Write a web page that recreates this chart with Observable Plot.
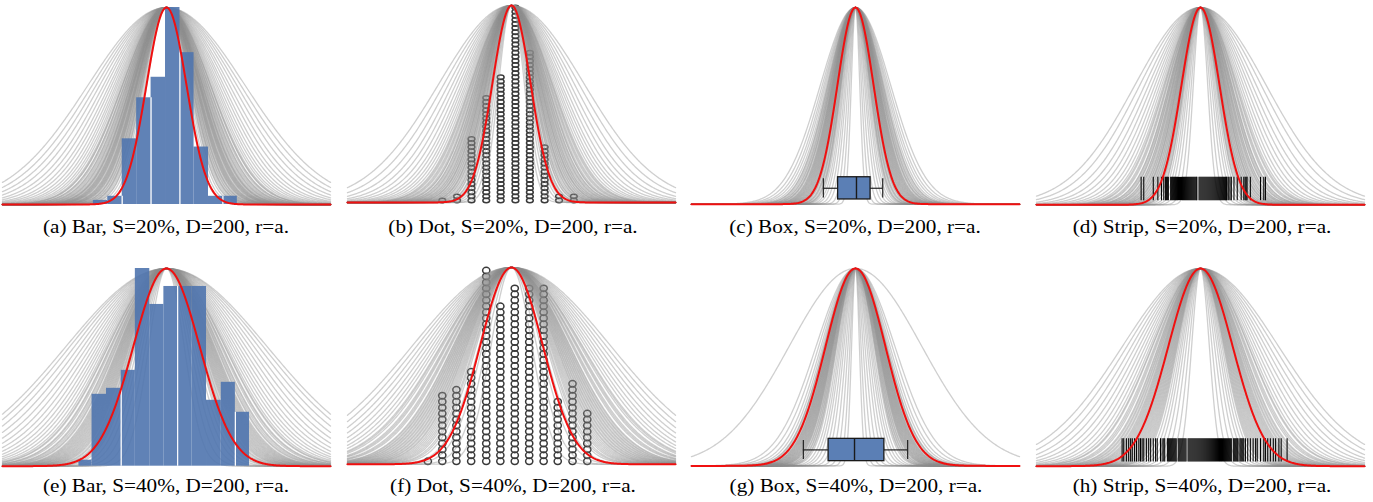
<!DOCTYPE html>
<html><head><meta charset="utf-8">
<script src="https://cdn.jsdelivr.net/npm/d3@7"></script>
<script src="https://cdn.jsdelivr.net/npm/@observablehq/plot@0.6"></script>
<style>
body{margin:0;background:#fff;}
#root{position:relative;width:1373px;height:502px;overflow:hidden;background:#fff;}
.panel{position:absolute;}
.cap{position:absolute;font-family:"Liberation Serif","Times New Roman",serif;font-size:18.8px;line-height:1;color:#000;white-space:nowrap;transform:translateX(-50%) scaleX(1.13);transform-origin:center;}
</style></head><body><div id="root"></div>
<script>
const captions = [
  "(a) Bar, S=20%, D=200, r=a.", "(b) Dot, S=20%, D=200, r=a.", "(c) Box, S=20%, D=200, r=a.", "(d) Strip, S=20%, D=200, r=a.",
  "(e) Bar, S=40%, D=200, r=a.", "(f) Dot, S=40%, D=200, r=a.", "(g) Box, S=40%, D=200, r=a.", "(h) Strip, S=40%, D=200, r=a."
];
// widths (sd) of the gray candidate curves, per panel
const sigmaA = [6.0, 6.5, 6.9, 7.2, 7.5, 7.7, 7.9, 8.2, 8.4, 8.5, 8.8, 9.0, 9.1, 9.4, 9.6, 9.8, 10.0, 10.1, 10.4, 10.6, 10.9, 11.0, 11.3, 11.5, 11.8, 12.0, 12.3, 12.6, 12.9, 13.3, 13.6, 14.0, 14.4, 14.9, 15.4, 16.0, 16.7, 17.4, 18.3, 19.2, 20.3, 21.4, 22.6, 23.9,
  7.3, 7.8, 8.1, 8.6, 8.9, 9.2, 9.5, 9.9, 10.2, 10.5, 10.8, 11.1, 11.6, 12.2, 12.8, 13.4, 9.3, 10.3];
const sigmaB = [3.9, 4.4, 4.9, 5.3, 5.6, 6.0, 6.3, 6.6, 6.9, 7.2, 7.4, 7.7, 7.9, 8.2, 8.4, 8.7, 8.9, 9.2, 9.4, 9.7, 10.0, 10.2, 10.5, 10.8, 11.1, 11.4, 11.8, 12.1, 12.5, 12.9, 13.4, 13.9, 14.5, 15.1, 15.9, 16.8, 17.8, 19.0, 20.4, 22.0,
  6.2, 6.7, 7.0, 7.5, 7.8, 8.1, 8.5, 8.8, 9.1, 9.5, 9.9, 10.4, 10.9, 11.6, 12.3];
const sigmaC = [1.3, 1.8, 2.3, 2.8, 3.2, 3.6, 3.9, 4.2, 4.4, 4.6, 4.8, 5.0, 5.2, 5.4, 5.5, 5.7, 5.9, 6.0, 6.2, 6.4, 6.5, 6.7, 6.9, 7.1, 7.3, 7.5, 7.7, 7.9, 8.2, 8.5, 8.8, 9.2, 9.6, 10.1, 10.7,
  4.5, 4.9, 5.3, 5.6, 5.8, 6.1, 6.3, 6.6, 6.8, 7.0, 7.2, 7.6, 8.0, 8.4];
const sigmaD = [2.2, 2.8, 3.4, 3.9, 4.3, 4.7, 5.0, 5.3, 5.6, 5.8, 6.1, 6.3, 6.6, 6.8, 7.1, 7.3, 7.6, 7.8, 8.1, 8.4, 8.7, 9.0, 9.3, 9.6, 10.0, 10.4, 10.8, 11.3, 11.8, 12.4, 13.1, 13.9, 14.8, 15.8, 17.0, 18.5, 20.0,
  5.1, 5.5, 5.9, 6.2, 6.5, 6.9, 7.2, 7.5, 7.9, 8.3, 8.6, 9.1, 9.5, 10.2, 11.0];
const sigmaE = [5.4, 6.4, 7.3, 8.1, 8.8, 9.4, 10.0, 10.5, 11.0, 11.5, 11.9, 12.3, 12.7, 13.1, 13.5, 13.9, 14.3, 14.7, 15.1, 15.6, 16.1, 16.6, 17.1, 17.7, 18.3, 18.9, 19.6, 20.3, 21.1, 22.0, 23.0, 24.1, 25.3, 26.6, 28.0, 29.4, 30.6,
  9.7, 10.3, 10.8, 11.3, 11.7, 12.1, 12.5, 12.9, 13.3, 13.7, 14.1, 14.5, 15.3, 15.9, 16.9, 17.9];
const sigmaF = [6.2, 7.6, 8.8, 9.8, 10.6, 11.3, 12.0, 12.6, 13.2, 13.7, 14.2, 14.7, 15.2, 15.7, 16.2, 16.7, 17.2, 17.7, 18.3, 18.9, 19.5, 20.1, 20.8, 21.5, 22.3, 23.1, 24.0, 25.0, 26.1, 27.3, 28.6, 30.0,
  11.0, 11.7, 12.3, 12.9, 13.5, 14.0, 14.5, 15.0, 15.5, 16.0, 16.5, 17.0, 17.5, 18.6, 19.8, 21.2];
const sigmaG = [1.2, 1.7, 2.3, 2.9, 3.5, 4.0, 4.5, 4.9, 5.3, 5.7, 6.0, 6.3, 6.6, 6.8, 7.0, 7.2, 7.4, 7.6, 7.8, 8.0, 8.2, 8.4, 8.6, 8.8, 9.0, 9.3, 9.6, 10.0, 10.5, 11.2, 12.0, 20.2,
  5.9, 6.2, 6.5, 6.9, 7.1, 7.3, 7.5, 7.7, 7.9, 8.1, 8.3, 8.5, 8.7, 9.1, 9.5];
const sigmaH = [2.7, 3.5, 4.3, 5.0, 5.6, 6.1, 6.6, 7.0, 7.4, 7.8, 8.2, 8.6, 9.0, 9.4, 9.8, 10.2, 10.6, 11.0, 11.4, 11.9, 12.4, 12.9, 13.4, 14.0, 14.6, 15.3, 16.0, 16.8, 17.7, 18.7, 19.8, 21.0, 22.4, 23.8,
  7.2, 7.6, 8.0, 8.4, 8.8, 9.2, 9.6, 10.0, 10.4, 10.8, 11.2, 11.7, 12.2, 12.7, 13.7, 14.8];
const redSigma = [6.1, 5.8, 5.5, 5.8, 10.1, 9.5, 9.1, 9.8];

const binEdgesS20 = [-22.3, -17.9, -13.5, -9.1, -4.7, -0.3, 4.1, 8.4, 12.8, 17.2, 21.6];
const countsS20 = [1, 2, 16, 26, 31, 48, 37, 14, 2, 2];
const whiteEdgesS20 = [-13.5, -4.7, 4.1, 17.2];
const dotXS20 = [-21.1, -16.6, -12.2, -7.7, -3.3, 1.2, 5.6, 10.1, 14.5, 19.0];
const binEdgesS40 = [-26.7, -22.7, -18.3, -13.8, -9.5, -5.1, -0.8, 3.4, 7.8, 12.2, 16.7, 21.0, 25.3];
const countsS40 = [1, 12, 13, 16, 33, 27, 30, 30, 30, 11, 14, 9];
const whiteEdgesS40 = [-13.8, 3.4, 21.0];
const dotXS40 = [-25.5, -21.1, -16.8, -12.3, -7.7, -3.4, 1.0, 5.4, 9.8, 14.1, 18.6, 23.1];
// lower whisker, q1, median, q3, upper whisker
const boxS20 = [-9.8, -5.3, 0.3, 4.6, 8.3];
const boxS40 = [-15.9, -8.2, -0.3, 8.8, 15.9];
const stripS20 = [-18.1, -17.3, -14.4, -13.0, -11.9, -11.2, -10.7, -10.4, -10.1, -9.8,
  -9.1, -8.8, -8.5, -8.2, -7.9, -7.6, -7.3, -7.0, -6.7, -6.4, -6.1, -5.8, -5.5, -5.2, -4.9, -4.6, -4.3, -4.0, -3.7, -3.4, -3.1, -2.8, -2.5, -2.2, -1.9, -1.6, -1.3, -1.1,
  -0.45, -0.15, 0.15, 0.45, 0.75, 1.05, 1.35, 1.65, 1.95, 2.25, 2.55, 2.85, 3.15, 3.45, 3.75, 4.05, 4.35, 4.65, 4.95, 5.25, 5.55, 5.85, 6.15, 6.45, 6.75, 7.05, 7.35, 7.65, 7.95, 8.1,
  8.6, 9.0, 9.4, 10.2, 11.2, 12.4, 13.2, 13.6, 13.9, 14.2, 15.2, 18.3, 19.3, 19.8];
const stripS40 = [-23.9, -23.4, -22.6, -21.9, -21.3, -20.8, -20.1, -19.5, -18.8, -18.3, -17.8, -17.3, -16.5, -15.8, -15.2, -14.4, -13.7, -13.2, -12.2, -11.7,
  -11.2, -10.9, -10.1, -9.8, -9.5, -9.2, -8.9, -8.6, -8.3, -8.0, -7.7, -7.4, -6.8, -6.5, -6.2, -5.9, -5.6, -5.3, -5.0, -4.7, -4.4, -3.8, -3.5, -3.2, -2.9, -2.6, -2.3, -2.0, -1.7,
  -1.4, -1.1, -0.8, -0.5, -0.2, 0.1, 0.4, 0.7, 1.0, 1.3, 1.6, 1.9, 2.2, 2.5, 2.8, 3.1, 3.4, 3.7, 4.0, 4.3, 4.6, 4.9, 5.2, 5.5, 5.8, 6.1, 6.4, 6.7, 7.0, 7.3, 7.6, 7.9, 8.2, 8.5, 8.8, 9.1,
  9.4, 10.0, 10.3, 10.6, 10.9, 11.2, 11.45, 12.0, 12.3, 12.6, 12.9, 13.2,
  13.7, 14.4, 15.2, 16.05, 16.8, 17.3, 18.3, 19.3, 19.8, 20.5, 21.3, 22.2, 22.9, 23.9, 24.6, 26.4];

const BLUE = "#4f74ae", GRAY = "#8c8c8c", RED = "#f01010", DOT = "#3a3a3a";

const layout = [
  {left: 2,    peak: 7,     base: 204,   capX: 166,    capY: 217.6},
  {left: 347,  peak: 5,     base: 202,   capX: 512.5,  capY: 217.6},
  {left: 691,  peak: 7.3,   base: 204,   capX: 855,    capY: 217.6},
  {left: 1036, peak: 6.7,   base: 204,   capX: 1201.7, capY: 217.6},
  {left: 2,    peak: 268.3, base: 466,   capX: 166,    capY: 476.6},
  {left: 347,  peak: 266.7, base: 463.5, capX: 512.5,  capY: 476.6},
  {left: 691,  peak: 268.3, base: 465.7, capX: 855.8,  capY: 476.6},
  {left: 1036, peak: 268.3, base: 466,   capX: 1201.7, capY: 476.6}
];
const sigmas = [sigmaA, sigmaB, sigmaC, sigmaD, sigmaE, sigmaF, sigmaG, sigmaH];
const kinds = ["bar", "dot", "box", "strip", "bar", "dot", "box", "strip"];

function gaussCurves(list) {
  const out = [];
  list.forEach((s, k) => {
    for (let x = -50; x <= 50.001; x += 0.25) out.push({k, x, y: Math.exp(-0.5 * (x / s) ** 2)});
  });
  return out;
}
function ellipseSymbol(ratio) {
  return {draw(ctx, size) {
    const rx = Math.sqrt(size / Math.PI), ry = rx * ratio, k = 0.5523;
    ctx.moveTo(rx, 0);
    ctx.bezierCurveTo(rx, ry * k, rx * k, ry, 0, ry);
    ctx.bezierCurveTo(-rx * k, ry, -rx, ry * k, -rx, 0);
    ctx.bezierCurveTo(-rx, -ry * k, -rx * k, -ry, 0, -ry);
    ctx.bezierCurveTo(rx * k, -ry, rx, -ry * k, rx, 0);
    ctx.closePath();
  }};
}

const root = document.getElementById("root");
for (let p = 0; p < 8; p++) {
  const L = layout[p];
  const row2 = p >= 4;
  const kind = kinds[p];
  const grayMark = Plot.line(gaussCurves(sigmas[p]), {x: "x", y: "y", z: "k", stroke: GRAY, strokeOpacity: 0.42, strokeWidth: 1.3});
  const redMark = Plot.line(gaussCurves([redSigma[p]]), {x: "x", y: "y", stroke: RED, strokeWidth: 2});
  const marks = [];
  if (kind === "bar") {
    const edges = row2 ? binEdgesS40 : binEdgesS20, counts = row2 ? countsS40 : countsS20;
    const whites = row2 ? whiteEdgesS40 : whiteEdgesS20;
    const maxC = d3.max(counts);
    const bins = counts.map((c, j) => ({x1: edges[j], x2: edges[j + 1], h: c / maxC}));
    const wr = whites.map(e => {
      const j = edges.findIndex(v => Math.abs(v - e) < 0.01);
      return {x: e, h: Math.min(counts[j - 1] || 0, counts[j] || 0) / maxC};
    });
    marks.push(grayMark,
      Plot.rect(bins, {x1: "x1", x2: "x2", y1: 0, y2: "h", fill: BLUE, fillOpacity: 0.9}),
      Plot.ruleX(wr, {x: "x", y1: 0, y2: "h", stroke: "#fff", strokeWidth: 1.2}),
      redMark);
  } else if (kind === "dot") {
    const xs = row2 ? dotXS40 : dotXS20, counts = row2 ? countsS40 : countsS20;
    const maxC = d3.max(counts);
    const dots = [];
    counts.forEach((c, j) => { for (let i = 0; i < c; i++) dots.push({x: xs[j], y: (i + 0.5) / maxC}); });
    marks.push(
      Plot.dot(dots, {x: "x", y: "y", r: row2 ? 3.6 : 3.4, symbol: ellipseSymbol(row2 ? 0.9 : 0.65), stroke: DOT, strokeWidth: 1.5, fill: "none"}),
      grayMark, redMark);
  } else if (kind === "box") {
    const b = row2 ? boxS40 : boxS20;
    const y1 = 0.024, y2 = 0.137, ym = 0.081;
    marks.push(grayMark, redMark,
      Plot.ruleY([ym], {x1: b[0], x2: b[1], stroke: "#222", strokeWidth: 1.2}),
      Plot.ruleY([ym], {x1: b[3], x2: b[4], stroke: "#222", strokeWidth: 1.2}),
      Plot.ruleX([b[0], b[4]], {y1: y1 + 0.008, y2: y2 - 0.008, stroke: "#222", strokeWidth: 1.2}),
      Plot.rect([b], {x1: d => d[1], x2: d => d[3], y1, y2, fill: "#5b7fb5", stroke: "#1a1a1a", strokeWidth: 1.3}),
      Plot.ruleX([b[2]], {y1, y2, stroke: "#1a1a1a", strokeWidth: 1.4}));
  } else {
    const s = row2 ? stripS40 : stripS20;
    marks.push(grayMark,
      Plot.ruleX(s, {x: d => d, y1: 0.021, y2: 0.139, stroke: "#000", strokeWidth: 1.05}),
      redMark);
  }
  const mt = 8, mb = 4;
  const svg = Plot.plot({
    width: 328, height: (L.base - L.peak) + mt + mb,
    marginTop: mt, marginBottom: mb, marginLeft: 0, marginRight: 0,
    x: {domain: [-50, 50], axis: null},
    y: {domain: [0, 1], axis: null},
    style: {background: "transparent", overflow: "visible"},
    marks
  });
  const div = document.createElement("div");
  div.className = "panel";
  div.style.left = L.left + "px";
  div.style.top = (L.peak - mt) + "px";
  div.appendChild(svg);
  root.appendChild(div);
  const cap = document.createElement("div");
  cap.className = "cap";
  cap.style.left = L.capX + "px";
  cap.style.top = L.capY + "px";
  cap.textContent = captions[p];
  root.appendChild(cap);
}
</script></body></html>
